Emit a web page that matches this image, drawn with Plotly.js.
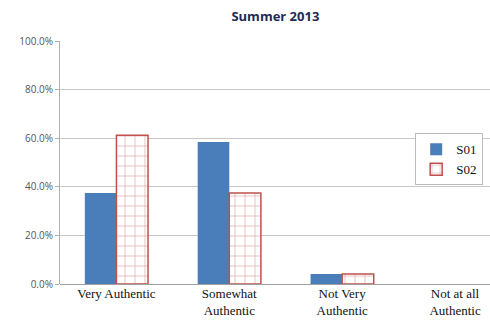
<!DOCTYPE html>
<html><head><meta charset="utf-8">
<script src="https://cdn.plot.ly/plotly-3.0.1.min.js"></script>
<style>html,body{margin:0;padding:0;background:#fff;}#chart{width:490px;height:322px;}</style>
</head><body><div id="chart"></div>
<script>
var categories = ["Very Authentic", "Somewhat<br>Authentic", "Not Very<br>Authentic", "Not at all<br>Authentic"];
var seriesNames = ["S01", "S02"];
var s01 = [0.374, 0.584, 0.041, 0];
var s02 = [0.612, 0.374, 0.041, 0];
var yTicks = [0, 0.2, 0.4, 0.6, 0.8, 1.0];
var yTickLabels = ["0.0%", "20.0%", "40.0%", "60.0%", "80.0%", "100.0%"];

var traces = [
  {type: "bar", name: seriesNames[0], x: categories, y: s01,
   marker: {color: "#4a7ebb", line: {color: "#4a7ebb", width: 0}}},
  {type: "bar", name: seriesNames[1], x: categories, y: s02,
   marker: {color: "#ffffff",
            line: {color: "#c0504d", width: s02.map(function(v){ return v > 0 ? 1.5 : 0; })},
            pattern: {shape: "+", fgcolor: "#dc9e9c", bgcolor: "#ffffff", size: 10, solidity: 0.12, fillmode: "replace"}}}
];
var layout = {
  width: 490, height: 322,
  margin: {l: 60, r: 0, t: 41, b: 38},
  paper_bgcolor: "#fff", plot_bgcolor: "#fff",
  title: {text: "<b>Summer 2013</b>", x: 0.562, xanchor: "center", y: 0.95, yanchor: "middle",
          font: {family: "Open Sans, DejaVu Sans, sans-serif", size: 13, color: "#1f2a55"}},
  barmode: "group", bargap: 0.44, bargroupgap: 0,
  xaxis: {type: "category", range: [-0.5, 3.31], showgrid: false, zeroline: false,
          showline: false, ticks: "",
          tickfont: {family: "Liberation Serif, Times New Roman, serif", size: 13, color: "#111"}},
  yaxis: {range: [0, 1.0], tickvals: yTicks, ticktext: yTickLabels, showgrid: true,
          gridcolor: "#c8c8c8", gridwidth: 1, zeroline: true, zerolinecolor: "#a0a0a0",
          showline: true, linecolor: "#b0b0b0", ticks: "outside", ticklen: 4, tickcolor: "#b0b0b0",
          tickfont: {family: "Open Sans, DejaVu Sans, sans-serif", size: 10, color: "#555"}},
  legend: {x: 0.826, y: 0.62, xanchor: "left", yanchor: "top", bgcolor: "#fff",
           bordercolor: "#bbbbbb", borderwidth: 1,
           font: {family: "Liberation Serif, Times New Roman, serif", size: 13, color: "#111"}},
  showlegend: true
};
Plotly.newPlot("chart", traces, layout, {displayModeBar: false, staticPlot: true});
</script></body></html>
